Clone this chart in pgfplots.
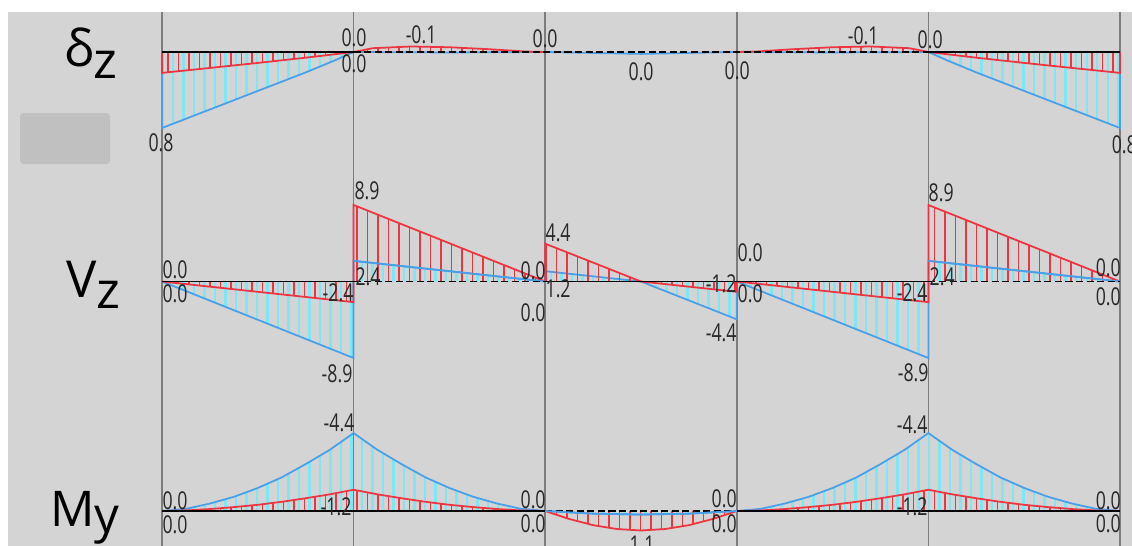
\documentclass[border=0pt]{standalone}
\usepackage{pgfplots}
\pgfplotsset{compat=1.18}
\usetikzlibrary{patterns.meta}
\usepackage{fontspec}
\setmainfont{Open Sans}
\newfontfamily\lf[FakeStretch=0.72]{Open Sans}
\definecolor{bg}{RGB}{212,212,212}
\definecolor{blob}{RGB}{192,192,192}
\definecolor{gridc}{RGB}{125,125,125}
\definecolor{rd}{RGB}{238,52,62}
\definecolor{bl}{RGB}{72,160,232}
\definecolor{cy}{RGB}{125,232,245}
\definecolor{txt}{RGB}{40,40,40}
\pgfplotsset{
  beam/.style={scale only axis, width=19.16cm, xmin=0, xmax=5, clip=false,
    axis line style={draw=none}, xtick={0,1,2,3,4,5}, xticklabels={}, ytick=\empty,
    major tick length=0pt, xmajorgrids, major grid style={gridc, line width=0.85pt}},
  bfill/.style={draw=bl, line width=1pt, pattern={Lines[angle=90,distance=0.21cm,line width=1.2pt,xshift=0.1cm]}, pattern color=cy},
  rfill/.style={draw=rd, line width=1pt, pattern={Lines[angle=90,distance=0.21cm,line width=0.8pt]}, pattern color=rd},
  bline/.style={bl, line width=1pt},
  base/.style={black, line width=1.1pt},
  dbase/.style={black, line width=1.1pt, dash pattern=on 4pt off 2pt},
}
\newcommand\lb[3]{\node[txt, font=\lf\fontsize{14}{15}\selectfont, inner sep=0] at (#1,#2) {#3};}
\begin{document}
\begin{tikzpicture}
\path[use as bounding box] (0,0) rectangle (22.64,10.92);
\fill[white] (0,0) rectangle (22.64,10.92);
\fill[bg] (0.16,0) rectangle (22.64,10.68);
\begin{scope}[x=0.02cm, y=-0.02cm, yshift=10.92cm]
\fill[blob, rounded corners=2pt] (20,113) rectangle (110,164);
\end{scope}

% delta_z
\begin{axis}[beam, at={(3.24cm,7.62cm)}, anchor=south west, height=3.06cm, y dir=reverse, ymin=-0.4211, ymax=1.1895]
\addplot[bfill] coordinates {(0,0) (0,0.8) (0.25,0.605) (0.5,0.41) (0.75,0.215) (0.9,0.09) (1,0)};
\addplot[bfill] coordinates {(4,0) (4.1,0.09) (4.25,0.215) (4.5,0.41) (4.75,0.605) (5,0.8) (5,0)};
\addplot[bline] coordinates {(1,0) (1.5,0.005) (2,0) (2.5,0.02) (3,0) (3.5,0.005) (4,0)};
\addplot[rfill] coordinates {(0,0) (0,0.22) (0.25,0.168) (0.5,0.115) (0.75,0.06) (1,0)};
\addplot[rfill] coordinates {(1,0) (1.1,-0.04) (1.3,-0.058) (1.5,-0.05) (1.7,-0.03) (1.9,-0.005) (2,0)};
\addplot[rfill] coordinates {(3,0) (3.1,-0.005) (3.3,-0.03) (3.5,-0.05) (3.7,-0.058) (3.9,-0.04) (4,0)};
\addplot[rfill] coordinates {(4,0) (4.25,0.06) (4.5,0.115) (4.75,0.168) (5,0.22) (5,0)};
\addplot[base] coordinates {(0,0) (1,0)};
\addplot[dbase] coordinates {(1,0) (4,0)};
\addplot[base] coordinates {(4,0) (5,0)};
\end{axis}

% V_z
\begin{axis}[beam, at={(3.24cm,2.92cm)}, anchor=south west, height=4.70cm, ymin=-13.78, ymax=13.55]
\addplot[bfill] coordinates {(0,0) (1,-8.9) (1,0)};
\addplot[bfill] coordinates {(1,0) (1,2.4) (2,0)};
\addplot[bfill] coordinates {(2,0) (2,1.2) (2.5,0) (3,-4.4) (3,0)};
\addplot[bfill] coordinates {(3,0) (4,-8.9) (4,0)};
\addplot[bfill] coordinates {(4,0) (4,2.4) (5,0)};
\addplot[rfill] coordinates {(0,0) (1,-2.4) (1,0)};
\addplot[rfill] coordinates {(1,0) (1,8.9) (2,0)};
\addplot[rfill] coordinates {(2,0) (2,4.4) (2.5,0) (3,-1.2) (3,0)};
\addplot[rfill] coordinates {(3,0) (4,-2.4) (4,0)};
\addplot[rfill] coordinates {(4,0) (4,8.9) (5,0)};
\addplot[bline] coordinates {(1,2.4) (2,0)};
\addplot[bline] coordinates {(4,2.4) (5,0)};
\addplot[base] coordinates {(0,0) (1,0)};
\addplot[dbase] coordinates {(1,0) (2,0)};
\addplot[base] coordinates {(2,0) (4,0)};
\addplot[dbase] coordinates {(4,0) (5,0)};
\end{axis}

% M_y
\begin{axis}[beam, at={(3.24cm,0cm)}, anchor=south west, height=2.92cm, y dir=reverse, ymin=-6.271, ymax=1.977]
\addplot[bfill] coordinates {(0,0) (0.125,-0.12) (0.25,-0.42) (0.375,-0.8) (0.5,-1.3) (0.625,-1.9) (0.75,-2.65) (0.875,-3.45) (1,-4.4) (1.125,-3.45) (1.25,-2.65) (1.375,-1.9) (1.5,-1.3) (1.625,-0.8) (1.75,-0.42) (1.875,-0.12) (2,0)};
\addplot[bfill] coordinates {(3,0) (3.125,-0.12) (3.25,-0.42) (3.375,-0.8) (3.5,-1.3) (3.625,-1.9) (3.75,-2.65) (3.875,-3.45) (4,-4.4) (4.125,-3.45) (4.25,-2.65) (4.375,-1.9) (4.5,-1.3) (4.625,-0.8) (4.75,-0.42) (4.875,-0.12) (5,0)};
\addplot[bfill] coordinates {(2,0) (2.25,0.15) (2.5,0.2) (2.75,0.15) (3,0)};
\addplot[rfill] coordinates {(0,0) (0.125,-0.03) (0.25,-0.11) (0.375,-0.22) (0.5,-0.35) (0.625,-0.52) (0.75,-0.72) (0.875,-0.94) (1,-1.2) (1.125,-0.94) (1.25,-0.72) (1.375,-0.52) (1.5,-0.35) (1.625,-0.22) (1.75,-0.11) (1.875,-0.03) (2,0)};
\addplot[rfill] coordinates {(3,0) (3.125,-0.03) (3.25,-0.11) (3.375,-0.22) (3.5,-0.35) (3.625,-0.52) (3.75,-0.72) (3.875,-0.94) (4,-1.2) (4.125,-0.94) (4.25,-0.72) (4.375,-0.52) (4.5,-0.35) (4.625,-0.22) (4.75,-0.11) (4.875,-0.03) (5,0)};
\addplot[rfill] coordinates {(2,0) (2.125,0.45) (2.25,0.8) (2.375,1.02) (2.5,1.1) (2.625,1.02) (2.75,0.8) (2.875,0.45) (3,0)};
\addplot[base] coordinates {(0,0) (2,0)};
\addplot[dbase] coordinates {(2,0) (3,0)};
\addplot[base] coordinates {(3,0) (5,0)};
\addplot[bline] coordinates {(2,0) (2.25,0.15) (2.5,0.2) (2.75,0.15) (3,0)};
\end{axis}

\begin{scope}[x=0.02cm, y=-0.02cm, yshift=10.92cm]
\node[anchor=base west, inner sep=0, font=\fontsize{29}{31}\selectfont] at (64,66) {δ\raisebox{-0.24cm}{z}};
\node[anchor=base west, inner sep=0, font=\fontsize{29}{31}\selectfont] at (66,297) {V\raisebox{-0.22cm}{z}};
\node[anchor=base west, inner sep=0, font=\fontsize{28}{30}\selectfont] at (50,526) {M\raisebox{-0.12cm}{y}};
% delta_z labels
\lb{354}{38}{0.0} \lb{354}{64}{0.0} \lb{421}{35}{-0.1} \lb{545}{39}{0.0}
\lb{641}{72}{0.0} \lb{737}{71}{0.0} \lb{863}{36}{-0.1} \lb{930}{40}{0.0}
\lb{161}{143}{0.8} \lb{1124}{145}{0.8}
% V_z labels
\lb{175}{270}{0.0} \lb{175}{294}{0.0} \lb{338}{293}{-2.4} \lb{368}{277}{2.4}
\lb{367}{191}{8.9} \lb{337}{374}{-8.9} \lb{533}{271}{0.0} \lb{533}{313}{0.0}
\lb{558}{233}{4.4} \lb{558}{289}{1.2} \lb{721}{284}{-1.2} \lb{721}{333}{-4.4}
\lb{750}{253}{0.0} \lb{750}{294}{0.0} \lb{912}{293}{-2.4} \lb{941}{193}{8.9}
\lb{942}{277}{2.4} \lb{913}{373}{-8.9} \lb{1108}{268}{0.0} \lb{1108}{297}{0.0}
% M_y labels
\lb{175}{501}{0.0} \lb{175}{525}{0.0} \lb{339}{423}{-4.4} \lb{336}{507}{-1.2}
\lb{533}{500}{0.0} \lb{533}{524}{0.0} \lb{724}{499}{0.0} \lb{724}{524}{0.0}
\lb{642}{545}{1.1} \lb{912}{425}{-4.4} \lb{912}{507}{-1.2}
\lb{1108}{501}{0.0} \lb{1108}{524}{0.0}
\end{scope}
\end{tikzpicture}
\end{document}
